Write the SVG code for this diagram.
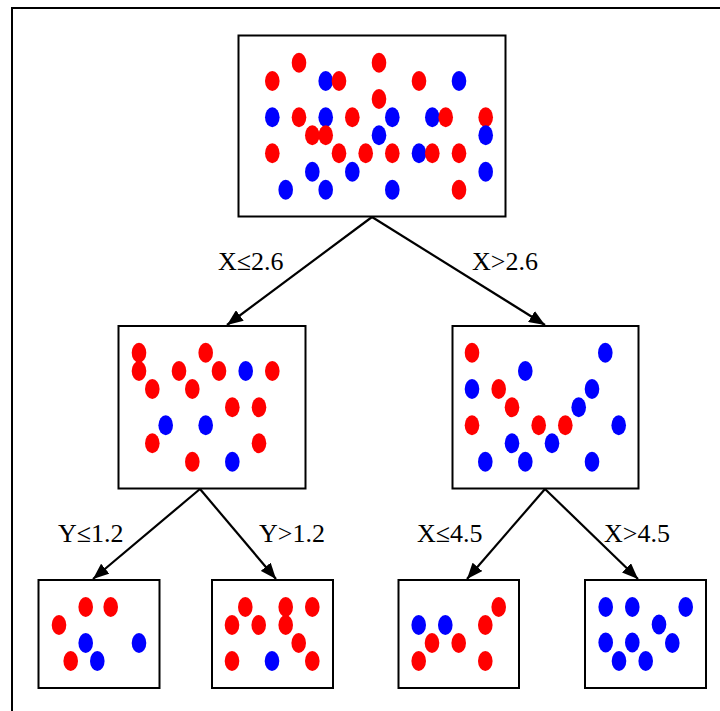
<svg xmlns="http://www.w3.org/2000/svg" width="720" height="711" viewBox="0 0 720 711">
<defs>
<style>
.box{fill:#fff;stroke:#000;stroke-width:2}
.r{fill:#ff0000}
.b{fill:#0000ff}
.lbl{font-family:"Liberation Serif","Times New Roman",serif;font-size:26px;fill:#000}
.edge{stroke:#000;stroke-width:2.2;fill:none;marker-end:url(#arr)}
</style>
<marker id="arr" viewBox="0 0 16 13" refX="16" refY="6.5" markerWidth="16" markerHeight="13" markerUnits="userSpaceOnUse" orient="auto">
<path d="M0,0 L16,6.5 L0,13 z" fill="#000"/>
</marker>
<ellipse id="d" rx="7.3" ry="10"/>
</defs>
<rect x="0" y="0" width="720" height="711" fill="#fff"/>
<rect x="12" y="8" width="720" height="720" fill="none" stroke="#000" stroke-width="2"/>

<g id="connectors">
<line class="edge" x1="372" y1="217" x2="227" y2="325"/>
<line class="edge" x1="372" y1="217" x2="545" y2="325"/>
<line class="edge" x1="200" y1="489" x2="93" y2="579"/>
<line class="edge" x1="200" y1="489" x2="276" y2="579"/>
<line class="edge" x1="545" y1="489" x2="467" y2="579"/>
<line class="edge" x1="545" y1="489" x2="638" y2="579"/>
<text class="lbl" x="218" y="270">X≤2.6</text>
<text class="lbl" x="472" y="270">X&gt;2.6</text>
<text class="lbl" x="58" y="542">Y≤1.2</text>
<text class="lbl" x="259" y="542">Y&gt;1.2</text>
<text class="lbl" x="417" y="542">X≤4.5</text>
<text class="lbl" x="604" y="542">X&gt;4.5</text>
</g>

<g id="root">
<rect class="box" x="238.5" y="35.5" width="267" height="181"/>
<use href="#d" class="r" x="299" y="62.7"/>
<use href="#d" class="r" x="379" y="62.7"/>
<use href="#d" class="r" x="272.3" y="81"/>
<use href="#d" class="b" x="325.7" y="81"/>
<use href="#d" class="r" x="339" y="81"/>
<use href="#d" class="r" x="419" y="81"/>
<use href="#d" class="b" x="459" y="81"/>
<use href="#d" class="r" x="379" y="99"/>
<use href="#d" class="b" x="272.3" y="117.3"/>
<use href="#d" class="r" x="299" y="117.3"/>
<use href="#d" class="b" x="325.7" y="117.3"/>
<use href="#d" class="r" x="352.3" y="117.3"/>
<use href="#d" class="b" x="392.3" y="117.3"/>
<use href="#d" class="b" x="432.3" y="117.3"/>
<use href="#d" class="r" x="445.7" y="117.3"/>
<use href="#d" class="r" x="485.7" y="117.3"/>
<use href="#d" class="r" x="312.3" y="135.3"/>
<use href="#d" class="r" x="325.7" y="135.3"/>
<use href="#d" class="b" x="379" y="135.3"/>
<use href="#d" class="b" x="485.7" y="135.3"/>
<use href="#d" class="r" x="272.3" y="153.3"/>
<use href="#d" class="r" x="339" y="153.3"/>
<use href="#d" class="r" x="365.7" y="153.3"/>
<use href="#d" class="r" x="392.3" y="153.3"/>
<use href="#d" class="b" x="419" y="153.3"/>
<use href="#d" class="r" x="432.3" y="153.3"/>
<use href="#d" class="r" x="459" y="153.3"/>
<use href="#d" class="b" x="312.3" y="171.7"/>
<use href="#d" class="b" x="352.3" y="171.7"/>
<use href="#d" class="b" x="485.7" y="171.7"/>
<use href="#d" class="b" x="285.7" y="189.7"/>
<use href="#d" class="b" x="325.7" y="189.7"/>
<use href="#d" class="b" x="392.3" y="189.7"/>
<use href="#d" class="r" x="459" y="189.7"/>
</g>

<g id="left">
<rect class="box" x="118.5" y="326" width="187" height="162.5"/>
<use href="#d" class="r" x="139" y="352.7"/>
<use href="#d" class="r" x="205.7" y="352.7"/>
<use href="#d" class="r" x="139" y="371"/>
<use href="#d" class="r" x="179" y="371"/>
<use href="#d" class="r" x="219" y="371"/>
<use href="#d" class="b" x="245.7" y="371"/>
<use href="#d" class="r" x="272.3" y="371"/>
<use href="#d" class="r" x="152.3" y="389"/>
<use href="#d" class="r" x="192.3" y="389"/>
<use href="#d" class="r" x="232.3" y="407.3"/>
<use href="#d" class="r" x="259" y="407.3"/>
<use href="#d" class="b" x="165.7" y="425.3"/>
<use href="#d" class="b" x="205.7" y="425.3"/>
<use href="#d" class="r" x="152.3" y="443.3"/>
<use href="#d" class="r" x="259" y="443.3"/>
<use href="#d" class="r" x="192.3" y="461.7"/>
<use href="#d" class="b" x="232.3" y="461.7"/>
</g>

<g id="right">
<rect class="box" x="452.5" y="326" width="186" height="162.5"/>
<use href="#d" class="r" x="472" y="352.7"/>
<use href="#d" class="b" x="605.3" y="352.7"/>
<use href="#d" class="b" x="525.3" y="371"/>
<use href="#d" class="b" x="472" y="389"/>
<use href="#d" class="r" x="498.7" y="389"/>
<use href="#d" class="b" x="592" y="389"/>
<use href="#d" class="r" x="512" y="407.3"/>
<use href="#d" class="b" x="578.7" y="407.3"/>
<use href="#d" class="r" x="472" y="425.3"/>
<use href="#d" class="r" x="538.7" y="425.3"/>
<use href="#d" class="r" x="565.3" y="425.3"/>
<use href="#d" class="b" x="618.7" y="425.3"/>
<use href="#d" class="b" x="512" y="443.3"/>
<use href="#d" class="b" x="552" y="443.3"/>
<use href="#d" class="b" x="485.3" y="461.7"/>
<use href="#d" class="b" x="525.3" y="461.7"/>
<use href="#d" class="b" x="592" y="461.7"/>
</g>

<g id="leaf1">
<rect class="box" x="38.5" y="580" width="121" height="108"/>
<use href="#d" class="r" x="85.7" y="607"/>
<use href="#d" class="r" x="110.7" y="607"/>
<use href="#d" class="r" x="59" y="625"/>
<use href="#d" class="b" x="85.7" y="643"/>
<use href="#d" class="b" x="139" y="643"/>
<use href="#d" class="r" x="70.7" y="661"/>
<use href="#d" class="b" x="97.3" y="661"/>
</g>

<g id="leaf2">
<rect class="box" x="212" y="580" width="121" height="108"/>
<use href="#d" class="r" x="245.3" y="607"/>
<use href="#d" class="r" x="285.7" y="607"/>
<use href="#d" class="r" x="312.3" y="607"/>
<use href="#d" class="r" x="232" y="625"/>
<use href="#d" class="r" x="258.7" y="625"/>
<use href="#d" class="r" x="285.7" y="625"/>
<use href="#d" class="r" x="298.7" y="643"/>
<use href="#d" class="r" x="232" y="661"/>
<use href="#d" class="b" x="272" y="661"/>
<use href="#d" class="r" x="312.3" y="661"/>
</g>

<g id="leaf3">
<rect class="box" x="398.5" y="580" width="120.5" height="108"/>
<use href="#d" class="r" x="498.7" y="607"/>
<use href="#d" class="b" x="418.7" y="625"/>
<use href="#d" class="b" x="445.3" y="625"/>
<use href="#d" class="r" x="485.3" y="625"/>
<use href="#d" class="r" x="432" y="643"/>
<use href="#d" class="r" x="458.7" y="643"/>
<use href="#d" class="r" x="418.7" y="661"/>
<use href="#d" class="r" x="485.3" y="661"/>
</g>

<g id="leaf4">
<rect class="box" x="585" y="580" width="121" height="108"/>
<use href="#d" class="b" x="605.7" y="607"/>
<use href="#d" class="b" x="632.3" y="607"/>
<use href="#d" class="b" x="685.7" y="607"/>
<use href="#d" class="b" x="659" y="624.5"/>
<use href="#d" class="b" x="605.7" y="642.5"/>
<use href="#d" class="b" x="632.3" y="642.5"/>
<use href="#d" class="b" x="672.3" y="643"/>
<use href="#d" class="b" x="619" y="661"/>
<use href="#d" class="b" x="645.7" y="661"/>
</g>
</svg>
